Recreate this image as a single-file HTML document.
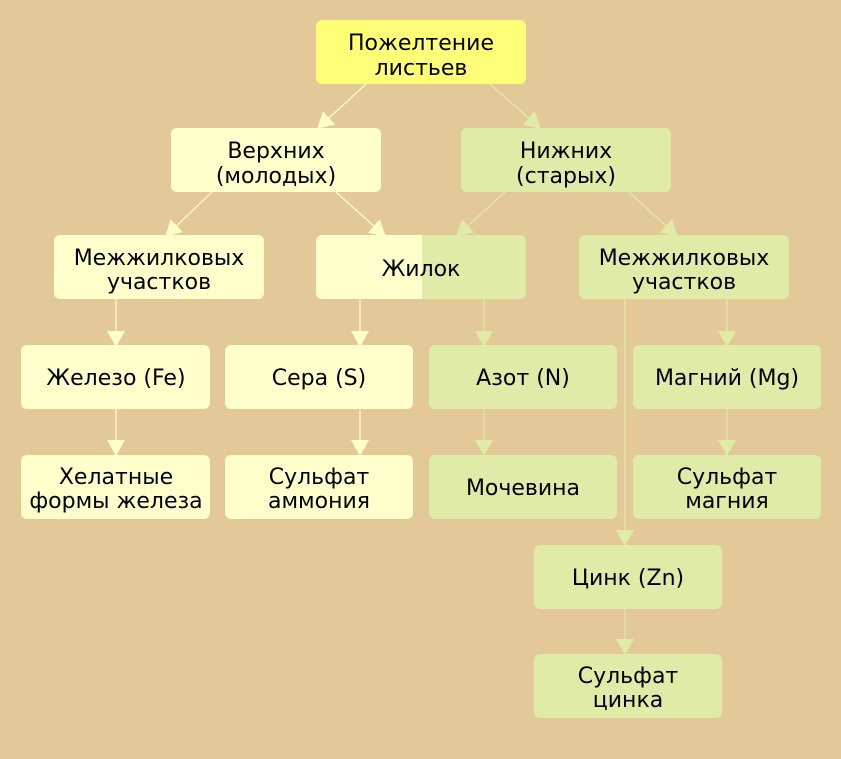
<!DOCTYPE html>
<html><head><meta charset="utf-8"><style>
html,body{margin:0;padding:0;background:#e3c998;}
svg{display:block}
</style></head><body>
<svg width="841" height="759" viewBox="0 0 841 759" xmlns="http://www.w3.org/2000/svg">
<defs>
<marker id="ay" markerWidth="16" markerHeight="18" refX="15" refY="9" orient="auto" markerUnits="userSpaceOnUse"><path d="M0,0 L16,9 L0,18 Z" fill="#ffffc8"/></marker>
<marker id="ag" markerWidth="16" markerHeight="18" refX="15" refY="9" orient="auto" markerUnits="userSpaceOnUse"><path d="M0,0 L16,9 L0,18 Z" fill="#e0eba8"/></marker>
<clipPath id="jc"><rect x="316" y="235" width="210" height="64" rx="6"/></clipPath>
</defs>
<rect width="841" height="759" fill="#e3c998"/>
<g stroke-width="1.2" fill="none">
<line x1="366" y1="84" x2="318" y2="128" stroke="#ffffc8" marker-end="url(#ay)"/>
<line x1="490" y1="84" x2="540" y2="128" stroke="#e0eba8" marker-end="url(#ag)"/>
<line x1="212" y1="192" x2="166" y2="236" stroke="#ffffc8" marker-end="url(#ay)"/>
<line x1="336" y1="192" x2="385" y2="236" stroke="#ffffc8" marker-end="url(#ay)"/>
<line x1="505" y1="192" x2="457" y2="236" stroke="#e0eba8" marker-end="url(#ag)"/>
<line x1="629" y1="192" x2="677" y2="236" stroke="#e0eba8" marker-end="url(#ag)"/>
<line x1="116" y1="299" x2="116" y2="346" stroke="#ffffc8" marker-end="url(#ay)"/>
<line x1="116" y1="409" x2="116" y2="455" stroke="#ffffc8" marker-end="url(#ay)"/>
<line x1="360" y1="299" x2="360" y2="346" stroke="#ffffc8" marker-end="url(#ay)"/>
<line x1="360" y1="409" x2="360" y2="455" stroke="#ffffc8" marker-end="url(#ay)"/>
<line x1="484" y1="299" x2="484" y2="346" stroke="#e0eba8" marker-end="url(#ag)"/>
<line x1="484" y1="409" x2="484" y2="455" stroke="#e0eba8" marker-end="url(#ag)"/>
<line x1="727" y1="299" x2="727" y2="346" stroke="#e0eba8" marker-end="url(#ag)"/>
<line x1="727" y1="409" x2="727" y2="455" stroke="#e0eba8" marker-end="url(#ag)"/>
<line x1="625" y1="299" x2="625" y2="545" stroke="#e0eba8" marker-end="url(#ag)"/>
<line x1="625" y1="608" x2="625" y2="654" stroke="#e0eba8" marker-end="url(#ag)"/>
</g>
<rect x="316" y="20" width="210" height="64" rx="6" fill="#ffff77"/>
<rect x="171" y="128" width="210" height="64" rx="6" fill="#ffffcc"/>
<rect x="461" y="128" width="210" height="64" rx="6" fill="#e0eba8"/>
<rect x="54" y="235" width="210" height="64" rx="6" fill="#ffffcc"/>
<g clip-path="url(#jc)"><rect x="316" y="235" width="106" height="64" fill="#ffffcc"/><rect x="422" y="235" width="104" height="64" fill="#e0eba8"/></g>
<rect x="579" y="235" width="210" height="64" rx="6" fill="#e0eba8"/>
<rect x="21" y="345" width="189" height="64" rx="6" fill="#ffffcc"/>
<rect x="225" y="345" width="188" height="64" rx="6" fill="#ffffcc"/>
<rect x="429" y="345" width="188" height="64" rx="6" fill="#e0eba8"/>
<rect x="633" y="345" width="188" height="64" rx="6" fill="#e0eba8"/>
<rect x="21" y="455" width="189" height="64" rx="6" fill="#ffffcc"/>
<rect x="225" y="455" width="188" height="64" rx="6" fill="#ffffcc"/>
<rect x="429" y="455" width="188" height="64" rx="6" fill="#e0eba8"/>
<rect x="633" y="455" width="188" height="64" rx="6" fill="#e0eba8"/>
<rect x="534" y="545" width="188" height="64" rx="6" fill="#e0eba8"/>
<rect x="534" y="654" width="188" height="64" rx="6" fill="#e0eba8"/>
<g font-family="DejaVu Sans, Liberation Sans, sans-serif" font-size="22" fill="#000" text-anchor="middle">
<text x="421" y="50">Пожелтение</text><text x="421" y="75">листьев</text>
<text x="276" y="158">Верхних</text><text x="276" y="183">(молодых)</text>
<text x="566" y="158">Нижних</text><text x="566" y="183">(старых)</text>
<text x="159" y="265">Межжилковых</text><text x="159" y="289">участков</text>
<text x="421" y="276">Жилок</text>
<text x="684" y="265">Межжилковых</text><text x="684" y="289">участков</text>
<text x="116" y="385">Железо (Fe)</text>
<text x="319" y="385">Сера (S)</text>
<text x="523" y="385">Азот (N)</text>
<text x="727" y="385">Магний (Mg)</text>
<text x="116" y="484">Хелатные</text><text x="116" y="508">формы железа</text>
<text x="319" y="484">Сульфат</text><text x="319" y="508">аммония</text>
<text x="523" y="495">Мочевина</text>
<text x="727" y="484">Сульфат</text><text x="727" y="508">магния</text>
<text x="628" y="585">Цинк (Zn)</text>
<text x="628" y="683">Сульфат</text><text x="628" y="707">цинка</text>
</g>
</svg>
</body></html>
